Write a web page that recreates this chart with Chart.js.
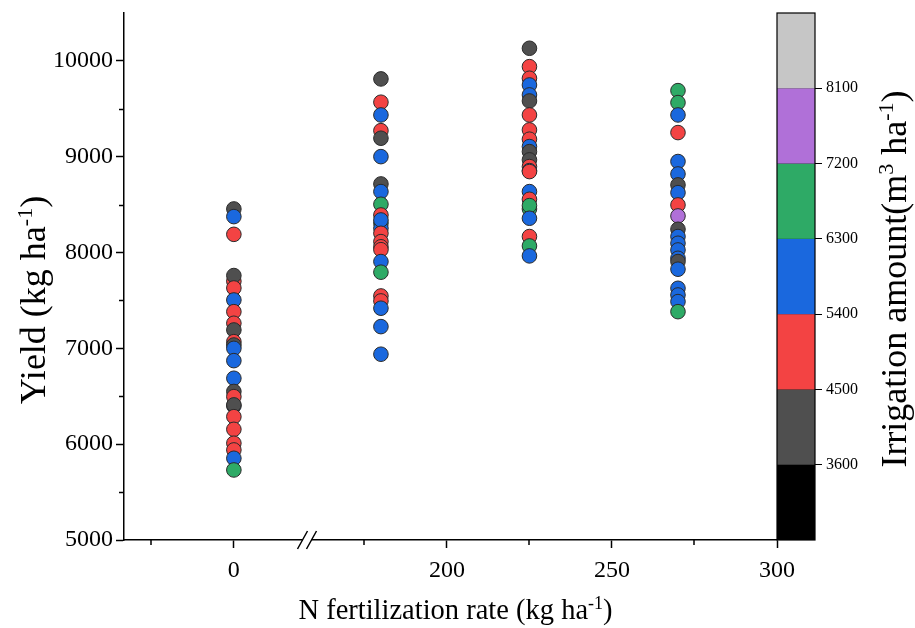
<!DOCTYPE html>
<html>
<head>
<meta charset="utf-8">
<script src="https://cdn.jsdelivr.net/npm/chart.js@4.4.1/dist/chart.umd.min.js"></script>
<style>
  html, body { margin: 0; padding: 0; background: #fff; }
  #wrap { width: 915px; height: 628px; }
</style>
</head>
<body>
<div id="wrap"><canvas id="yieldChart"></canvas></div>
<script>
// N rates (kg/ha) of the four point columns
const nRates = [0, 180, 225, 270];

// yield (kg/ha) and irrigation amount (m3/ha) of each point, per N rate
const yieldN0 = [8455, 8375, 8190, 7700, 7760, 7630, 7505, 7383, 7262, 7192, 7070, 7035, 7000, 6872, 6688,
                 6400, 6550, 6496, 6410, 6287, 6155, 6010, 5940, 5853, 5731];
const irrN0   = [4000, 6000, 5000, 5000, 4000, 5000, 6000, 5000, 5000, 4000, 5000, 4000, 6000, 6000, 6000,
                 6000, 4000, 5000, 4000, 5000, 5000, 5000, 5000, 6000, 7000];

const yieldN180 = [9812, 9569, 9436, 9272, 9193, 9001, 8716, 8636, 8504, 8392, 8306, 8254, 8340, 8201, 8114,
                   8060, 8030, 7906, 7795, 7547, 7495, 7419, 7227, 6939];
const irrN180   = [4000, 5000, 6000, 5000, 4000, 6000, 4000, 6000, 7000, 5000, 7000, 6000, 6000, 5000, 5000,
                   5000, 5000, 6000, 7000, 5000, 5000, 6000, 6000, 6000];

const yieldN225 = [10132, 9940, 9819, 9749, 9645, 9582, 9436, 9280, 9183, 9106, 9053, 8967, 8897, 8855, 8845,
                   8636, 8556, 8455, 8490, 8358, 8167, 8069, 7965];
const irrN225   = [4000, 5000, 5000, 6000, 6000, 4000, 5000, 5000, 5000, 6000, 4000, 4000, 5000, 6000, 5000,
                   6000, 5000, 7000, 7000, 6000, 5000, 7000, 6000];

const yieldN270 = [9690, 9565, 9436, 9252, 8950, 8820, 8706, 8625, 8497, 8382, 8243, 8167, 8097, 8027, 7940,
                   7906, 7826, 7627, 7557, 7488, 7383];
const irrN270   = [7000, 7000, 6000, 5000, 6000, 6000, 4000, 6000, 5000, 7500, 4000, 6000, 6000, 6000, 6000,
                   4000, 6000, 6000, 6000, 6000, 7000];

// colour bar: class bounds, colours, labelled ticks
const irrBounds = [2700, 3600, 4500, 5400, 6300, 7200, 8100, 9000];
const irrColors = ['#000000', '#4f4f4f', '#f34343', '#1a68de', '#2eaa66', '#b070d8', '#c6c6c6'];
const irrTicks = [3600, 4500, 5400, 6300, 7200, 8100];

// axis ticks
const yMajorTicks = [5000, 6000, 7000, 8000, 9000, 10000];
const yMinorTicks = [5500, 6500, 7500, 8500, 9500];
const xLeftMajor = [0];
const xLeftMinor = [-25];
const xRightMajor = [200, 250, 300];
const xRightMinor = [175, 225, 275];

const FONT = "'Liberation Serif', 'Times New Roman', serif";

function irrColor(v) {
  for (let i = 0; i < irrColors.length; i++) {
    if (v >= irrBounds[i] && v < irrBounds[i + 1]) return irrColors[i];
  }
  return irrColors[irrColors.length - 1];
}

function tickList(major, minor) {
  return major.concat(minor).sort((a, b) => a - b).map(v => ({ value: v }));
}

// text with superscript parts, centred on (cx, cy) baseline
function richText(ctx, parts, cx, cy, size, angle) {
  const sup = Math.round(size * 0.62);
  ctx.save();
  ctx.translate(cx, cy);
  ctx.rotate(angle);
  ctx.textAlign = 'left';
  ctx.textBaseline = 'alphabetic';
  ctx.fillStyle = '#000';
  let total = 0;
  parts.forEach(p => {
    ctx.font = (p[1] ? sup : size) + 'px ' + FONT;
    total += ctx.measureText(p[0]).width;
  });
  let x = -total / 2;
  parts.forEach(p => {
    ctx.font = (p[1] ? sup : size) + 'px ' + FONT;
    ctx.fillText(p[0], x, p[1] ? -size * 0.36 : 0);
    x += ctx.measureText(p[0]).width;
  });
  ctx.restore();
}

const columns = [
  { n: nRates[0], y: yieldN0, irr: irrN0, axis: 'xL' },
  { n: nRates[1], y: yieldN180, irr: irrN180, axis: 'xR' },
  { n: nRates[2], y: yieldN225, irr: irrN225, axis: 'xR' },
  { n: nRates[3], y: yieldN270, irr: irrN270, axis: 'xR' }
];

const extras = {
  id: 'extras',
  afterDraw(chart) {
    const ctx = chart.ctx;
    const ca = chart.chartArea;
    const yc = chart.scales.yc;
    const y = chart.scales.y;
    const xL = chart.scales.xL;
    const xR = chart.scales.xR;

    // colour bar
    const barW = 38;
    ctx.save();
    for (let i = 0; i < irrColors.length; i++) {
      const top = yc.getPixelForValue(irrBounds[i + 1]);
      const bot = yc.getPixelForValue(irrBounds[i]);
      ctx.fillStyle = irrColors[i];
      ctx.fillRect(ca.right, top, barW, bot - top);
    }
    ctx.strokeStyle = '#000';
    ctx.lineWidth = 1.2;
    ctx.strokeRect(ca.right, yc.getPixelForValue(irrBounds[irrBounds.length - 1]), barW,
      yc.getPixelForValue(irrBounds[0]) - yc.getPixelForValue(irrBounds[irrBounds.length - 1]));

    // minor ticks
    ctx.lineWidth = 1.5;
    ctx.beginPath();
    yMinorTicks.forEach(v => {
      const py = Math.round(y.getPixelForValue(v)) + 0.5;
      ctx.moveTo(ca.left, py);
      ctx.lineTo(ca.left - 5, py);
    });
    xLeftMinor.forEach(v => {
      const px = Math.round(xL.getPixelForValue(v));
      ctx.moveTo(px, ca.bottom);
      ctx.lineTo(px, ca.bottom + 5);
    });
    xRightMinor.forEach(v => {
      const px = Math.round(xR.getPixelForValue(v));
      ctx.moveTo(px, ca.bottom);
      ctx.lineTo(px, ca.bottom + 5);
    });
    ctx.stroke();

    // axis break
    const bx = xL.right + 1;
    ctx.fillStyle = '#fff';
    ctx.fillRect(bx - 4, ca.bottom - 2, 8, 4);
    ctx.beginPath();
    [-4.5, 4.5].forEach(d => {
      ctx.moveTo(bx + d - 5, ca.bottom + 9);
      ctx.lineTo(bx + d + 5, ca.bottom - 9);
    });
    ctx.lineWidth = 1.5;
    ctx.stroke();
    ctx.restore();

    // axis titles
    richText(ctx, [['N fertilization rate (kg ha', 0], ['-1', 1], [')', 0]],
      (ca.left + ca.right) / 2 + 5, 619, 28.5, 0);
    richText(ctx, [['Yield (kg ha', 0], ['-1', 1], [')', 0]],
      45, 300, 36, -Math.PI / 2);
    richText(ctx, [['Irrigation amount(m', 0], ['3', 1], [' ha', 0], ['-1', 1], [')', 0]],
      906, 279, 36, -Math.PI / 2);
  }
};

const tickFont = { family: FONT, size: 24 };

new Chart(document.getElementById('yieldChart'), {
  type: 'scatter',
  data: {
    datasets: columns.map(c => ({
      data: c.y.map(v => ({ x: c.n, y: v })),
      xAxisID: c.axis,
      yAxisID: 'y',
      pointRadius: 7.3,
      pointHoverRadius: 7.3,
      pointBackgroundColor: c.irr.map(irrColor),
      pointBorderColor: '#2a2a2a',
      pointBorderWidth: 1
    }))
  },
  options: {
    responsive: true,
    maintainAspectRatio: false,
    animation: false,
    layout: { padding: { top: 13, left: 0, right: 0, bottom: 0 } },
    plugins: { legend: { display: false }, tooltip: { enabled: false } },
    scales: {
      xL: {
        type: 'linear', position: 'bottom', stack: 'nx', stackWeight: 182, weight: 0,
        min: -33.2, max: 21.8,
        afterBuildTicks: s => { s.ticks = tickList(xLeftMajor, xLeftMinor); },
        afterFit: s => { s.height = 88; },
        border: { color: '#000', width: 1.5 },
        grid: { drawOnChartArea: false, tickLength: 8, tickWidth: 1.5,
                tickColor: c => (c.tick && xLeftMajor.includes(c.tick.value)) ? '#000' : 'rgba(0,0,0,0)' },
        ticks: { font: tickFont, color: '#000', padding: 8, autoSkip: false, maxRotation: 0,
                 callback: v => xLeftMajor.includes(v) ? String(v) : '' }
      },
      xR: {
        type: 'linear', position: 'bottom', stack: 'nx', stackWeight: 471, weight: 1,
        min: 157.3, max: 300,
        afterBuildTicks: s => { s.ticks = tickList(xRightMajor, xRightMinor); },
        afterFit: s => { s.height = 88; },
        border: { color: '#000', width: 1.5 },
        grid: { drawOnChartArea: false, tickLength: 8, tickWidth: 1.5,
                tickColor: c => (c.tick && xRightMajor.includes(c.tick.value)) ? '#000' : 'rgba(0,0,0,0)' },
        ticks: { font: tickFont, color: '#000', padding: 8, autoSkip: false, maxRotation: 0,
                 callback: v => xRightMajor.includes(v) ? String(v) : '' }
      },
      y: {
        type: 'linear', position: 'left', min: 5000, max: 10500,
        afterBuildTicks: s => { s.ticks = tickList(yMajorTicks, yMinorTicks); },
        afterFit: s => { s.width = 124; s.paddingTop = 0; s.paddingBottom = 0; },
        border: { color: '#000', width: 1.5 },
        grid: { drawOnChartArea: false, tickLength: 8, tickWidth: 1.5,
                tickColor: c => (c.tick && yMajorTicks.includes(c.tick.value)) ? '#000' : 'rgba(0,0,0,0)' },
        ticks: { font: tickFont, color: '#000', padding: 3, autoSkip: false,
                 callback: v => yMajorTicks.includes(v) ? String(v) : '' }
      },
      yc: {
        type: 'linear', position: 'right', min: irrBounds[0], max: irrBounds[irrBounds.length - 1],
        afterBuildTicks: s => { s.ticks = irrTicks.map(v => ({ value: v })); },
        afterFit: s => { s.width = 138; s.paddingTop = 0; s.paddingBottom = 0; },
        border: { display: false },
        grid: { drawOnChartArea: false, tickLength: 45, tickWidth: 1.2, tickColor: '#000' },
        ticks: { font: { family: FONT, size: 16 }, color: '#000', padding: 4, autoSkip: false,
                 callback: v => String(v) }
      }
    }
  },
  plugins: [extras]
});
</script>
</body>
</html>
